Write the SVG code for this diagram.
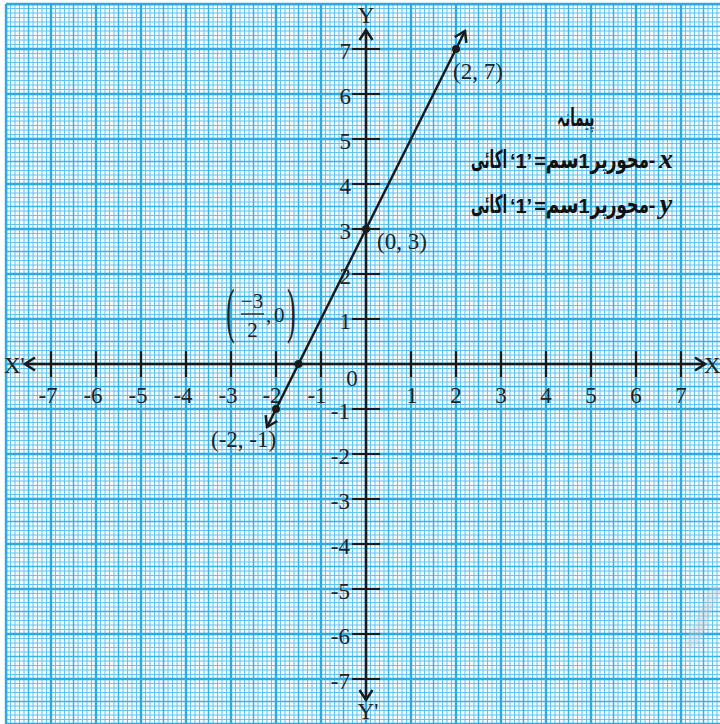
<svg xmlns="http://www.w3.org/2000/svg" width="720" height="724" viewBox="0 0 720 724">
<style>
.ax{stroke:#1a1a1a;stroke-width:2.5;fill:none}
.tk{stroke:#1a1a1a;stroke-width:2.2}
.num{font-family:"Liberation Serif","Times New Roman",serif;font-size:23px;fill:#222}
.lbl{font-family:"Liberation Serif","Times New Roman",serif;font-size:23px;fill:#222}
.ur{font-family:"DejaVu Sans","Noto Sans",sans-serif;font-size:25px;font-weight:bold;fill:#111}
.ul{font-family:"Liberation Sans",sans-serif;font-size:20px;font-weight:bold}
.pt{fill:#1a1a1a}
</style>
<defs>
<pattern id="grid" patternUnits="userSpaceOnUse" x="6" y="4" width="45" height="45">
<rect width="45" height="45" fill="#f4fbfe"/>
<path d="M4.5 0V45M9 0V45M13.5 0V45M18 0V45M27 0V45M31.5 0V45M36 0V45M40.5 0V45M0 4.5H45M0 9H45M0 13.5H45M0 18H45M0 27H45M0 31.5H45M0 36H45M0 40.5H45" stroke="#62c4ee" stroke-width="1"/>
<path d="M22.5 0V45M0 22.5H45" stroke="#38b3e7" stroke-width="1.5"/>
<path d="M0 0V45M45 0V45M0 0H45M0 45H45" stroke="#2caae2" stroke-width="2.4"/>
</pattern>
<marker id="chev" viewBox="-12 -8 14 16" refX="0" refY="0" markerWidth="14" markerHeight="16" markerUnits="userSpaceOnUse" orient="auto-start-reverse">
<path d="M-10,-6.5 L0,0 L-10,6.5" fill="none" stroke="#1a1a1a" stroke-width="2.5"/>
</marker>
</defs>
<rect width="720" height="724" fill="#ffffff"/>
<g id="grid-paper">
<rect x="6" y="4" width="714" height="720" fill="url(#grid)"/>
<path d="M6 4V724M6 4H720" stroke="#2caae2" stroke-width="2.4"/>
</g>
<g id="watermark" opacity="0.35">
<path d="M722 588 L700 640 Q696 650 690 648 Q684 645 688 636 L712 584 Z" fill="#c8c8c8"/>
</g>
<g id="x-axis">
<line class="ax" x1="25" y1="364" x2="705" y2="364" marker-start="url(#chev)" marker-end="url(#chev)"/>
<text class="lbl" x="4" y="373">X'</text>
<text class="lbl" x="704" y="373">X</text>
<path class="tk" d="M51 351V377M96 351V377M141 351V377M186 351V377M231 351V377M276 351V377M321 351V377M411 351V377M456 351V377M501 351V377M546 351V377M591 351V377M636 351V377M681 351V377"/>
<g class="num" text-anchor="middle">
<text x="48" y="403">-7</text><text x="93" y="403">-6</text><text x="138" y="403">-5</text><text x="183" y="403">-4</text><text x="228" y="403">-3</text><text x="272" y="403">-2</text><text x="317" y="403">-1</text>
<text x="412" y="403">1</text><text x="456" y="403">2</text><text x="501" y="403">3</text><text x="546" y="403">4</text><text x="591" y="403">5</text><text x="636" y="403">6</text><text x="681" y="403">7</text>
<text x="352" y="386">0</text>
</g>
</g>
<g id="y-axis">
<line class="ax" x1="366" y1="700" x2="366" y2="30" marker-start="url(#chev)" marker-end="url(#chev)"/>
<text class="lbl" x="366" y="23" text-anchor="middle">Y</text>
<text class="lbl" x="368" y="719" text-anchor="middle">Y'</text>
<path class="tk" d="M352 49H380M352 94H380M352 139H380M352 184H380M352 229H380M352 274H380M352 319H380M352 409H380M352 454H380M352 499H380M352 544H380M352 589H380M352 634H380M352 679H380"/>
<g class="num" text-anchor="end">
<text x="351" y="59">7</text><text x="351" y="104">6</text><text x="351" y="149">5</text><text x="351" y="194">4</text><text x="351" y="239">3</text><text x="351" y="284">2</text><text x="351" y="329">1</text>
<text x="350" y="419">-1</text><text x="350" y="464">-2</text><text x="350" y="509">-3</text><text x="350" y="554">-4</text><text x="350" y="599">-5</text><text x="350" y="644">-6</text><text x="350" y="689">-7</text>
</g>
</g>
<g id="connectors">
<line class="ax" x1="267" y1="427" x2="465" y2="31" marker-start="url(#chev)" marker-end="url(#chev)"/>
</g>
<g id="point-2-7"><circle class="pt" cx="456" cy="49" r="4"/><text class="lbl" x="453" y="79">(2, 7)</text></g>
<g id="point-0-3"><circle class="pt" cx="366" cy="229" r="4"/><text class="lbl" x="377" y="249">(0, 3)</text></g>
<g id="point-m2-m1"><circle class="pt" cx="276" cy="409" r="4"/><text class="lbl" x="211" y="447">(-2, -1)</text></g>
<g id="point-m1.5-0"><circle class="pt" cx="298.5" cy="364" r="4"/>
<text class="lbl" transform="translate(226,331) scale(0.42,1)" style="font-size:62px">(</text>
<text class="lbl" x="252" y="308" text-anchor="middle" style="font-size:21px">−3</text>
<line x1="241" y1="314" x2="264" y2="314" stroke="#222" stroke-width="1.4"/>
<text class="lbl" x="252.5" y="337" text-anchor="middle" style="font-size:21px">2</text>
<text class="lbl" x="266" y="322" style="font-size:21px">,</text>
<text class="lbl" x="274" y="322" style="font-size:21px">0</text>
<text class="lbl" transform="translate(287,331) scale(0.42,1)" style="font-size:62px">)</text>
</g>
<g id="scale-legend" class="ur" text-anchor="middle">
<text transform="translate(576,126) scale(0.53,1)">پیمانہ</text>
<text transform="translate(489,168) scale(0.54,1)">اکائی</text>
<text class="ul" x="521" y="168">‘1’</text>
<text class="ul" x="540" y="168">=</text>
<text transform="translate(562,168) scale(0.75,1)">سم</text>
<text class="ul" x="584" y="168">1</text>
<text transform="translate(599,168) scale(0.69,1)">پر</text>
<text transform="translate(628,168) scale(0.66,1)">محور</text>
<text class="ul" x="652" y="167">-</text>
<text x="666" y="168" style="font-family:'Liberation Serif',serif;font-style:italic;font-size:28px">x</text>
<text transform="translate(489,213) scale(0.54,1)">اکائی</text>
<text class="ul" x="521" y="213">‘1’</text>
<text class="ul" x="540" y="213">=</text>
<text transform="translate(562,213) scale(0.75,1)">سم</text>
<text class="ul" x="584" y="213">1</text>
<text transform="translate(599,213) scale(0.69,1)">پر</text>
<text transform="translate(628,213) scale(0.66,1)">محور</text>
<text class="ul" x="652" y="212">-</text>
<text x="666" y="213" style="font-family:'Liberation Serif',serif;font-style:italic;font-size:28px">y</text>
</g>
</svg>
